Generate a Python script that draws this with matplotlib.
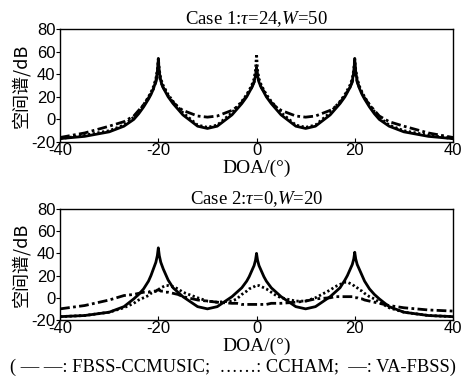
import matplotlib
matplotlib.use("Agg")
import matplotlib.pyplot as plt

plt.rcParams['axes.unicode_minus'] = False
plt.rcParams['mathtext.fontset'] = 'custom'
plt.rcParams['mathtext.rm'] = 'Liberation Serif'
plt.rcParams['mathtext.it'] = 'Liberation Serif:italic'

doa = [-40, -35, -30, -27,
       -25, -24, -23, -22, -21.5, -21, -20.5, -20.2, -20, -19.8, -19.5, -19, -18.5, -18, -17, -16, -15,
       -12, -10, -8,
       -5, -4, -3, -2, -1.5, -1, -0.5, -0.2, 0, 0.2, 0.5, 1, 1.5, 2, 3, 4, 5,
       8, 10, 12,
       15, 16, 17, 18, 18.5, 19, 19.5, 19.8, 20, 20.2, 20.5, 21, 21.5, 22, 23, 24, 25,
       27, 30, 35, 40]

# Case 1 (tau=24, W=50)
c1_va = [-17, -15, -11, -6,
         0, 5, 11, 18, 22, 27, 34, 42, 53, 42, 34, 28, 24, 20, 14, 9, 4,
         -6, -8, -6,
         4, 9, 14, 20, 24, 28, 33, 39, 46, 39, 33, 28, 24, 20, 14, 9, 4,
         -6, -8, -6,
         4, 9, 14, 20, 24, 28, 34, 42, 53, 42, 34, 27, 22, 18, 11, 5, 0,
         -6, -11, -15, -17]
c1_ccham = [-17, -14, -10, -5,
            2, 7, 13, 20, 24, 29, 36, 44, 54, 44, 36, 30, 26, 22, 16, 11, 6,
            -5, -7, -5,
            6, 11, 16, 22, 26, 30, 36, 44, 58, 44, 36, 30, 26, 22, 16, 11, 6,
            -5, -7, -5,
            6, 11, 16, 22, 26, 30, 36, 44, 54, 44, 36, 29, 24, 20, 13, 7, 2,
            -5, -10, -14, -17]
c1_fbss = [-16, -12, -6, -2,
           3, 8, 13, 19, 23, 27, 33, 39, 48, 39, 33, 28, 25, 21, 15, 11, 8,
           3, 2, 3,
           8, 11, 15, 21, 25, 28, 33, 38, 45, 38, 33, 28, 25, 21, 15, 11, 8,
           3, 2, 3,
           8, 11, 15, 21, 25, 28, 33, 39, 48, 39, 33, 27, 23, 19, 13, 8, 3,
           -2, -6, -12, -16]

# Case 2 (tau=0, W=20)
c2_va = [-17, -16, -13, -8,
         -1, 3, 8, 15, 20, 26, 32, 38, 45, 38, 32, 26, 21, 16, 9, 5, 1,
         -8, -10, -8,
         1, 5, 9, 15, 19, 24, 29, 34, 40, 34, 29, 24, 19, 15, 9, 5, 1,
         -8, -10, -8,
         1, 5, 9, 16, 20, 25, 30, 35, 41, 35, 30, 25, 20, 15, 8, 3, -1,
         -8, -13, -16, -17]
c2_ccham = [-17, -16, -13, -9,
            -5, -2, 0, 2, 4, 5, 6, 7, 7, 8, 9, 10, 11, 11, 10, 8, 5,
            0, -3, -4,
            -3, -1, 3, 6, 8, 9, 10, 11, 11, 11, 11, 10, 9, 8, 5, 2, 0,
            -3, -3, 0,
            7, 10, 12, 14, 14, 13, 12, 11, 10, 10, 9, 7, 6, 4, 1, -1, -4,
            -9, -13, -16, -17]
c2_fbss = [-10, -7, -2, 2,
           3, 4, 5, 5, 6, 6, 6, 7, 7, 7, 6, 6, 5, 5, 4, 3, 1,
           -2, -3, -4,
           -5, -5, -6, -6, -6, -6, -6, -6, -6, -6, -6, -6, -6, -6, -5, -5, -5,
           -4, -3, -1,
           0, 1, 1, 1, 1, 1, 1, 0, 0, 0, 0, -1, -1, -2, -3, -4, -5,
           -7, -9, -11, -12]

titles = [r'Case 1:$\tau$=24,$W$=50', r'Case 2:$\tau$=0,$W$=20']
series = [(c1_fbss, c1_ccham, c1_va), (c2_fbss, c2_ccham, c2_va)]
xticks = [-40, -20, 0, 20, 40]
yticks = [-20, 0, 20, 40, 60, 80]

fig = plt.figure(figsize=(4.66, 3.80), dpi=100)
rects = [[0.129, 0.6263, 0.843, 0.2974], [0.129, 0.158, 0.843, 0.292]]

for rect, title, (fb, cc, va) in zip(rects, titles, series):
    ax = fig.add_axes(rect)
    ax.plot(doa, fb, color='black', lw=2.0, linestyle=(0, (3.5, 1.2, 1, 1.2)))
    ax.plot(doa, cc, color='black', lw=2.0, linestyle=(0, (0.8, 0.9)))
    ax.plot(doa, va, color='black', lw=2.0, linestyle='-')
    ax.set_xlim(-40, 40)
    ax.set_ylim(-20, 80)
    ax.set_xticks(xticks)
    ax.set_yticks(yticks)
    ax.tick_params(axis='x', direction='in', length=3, pad=1, labelsize=12)
    ax.tick_params(axis='y', direction='out', length=3, pad=0.5, labelsize=12)
    for lab in ax.get_xticklabels() + ax.get_yticklabels():
        lab.set_fontfamily('Liberation Sans')
    for s in ax.spines.values():
        s.set_linewidth(1.0)
    ax.set_title(title, fontsize=13.5, family='Liberation Serif', pad=2)
    ax.set_xlabel('DOA/(°)', fontsize=14, family='Liberation Serif', labelpad=1)
    ax.set_ylabel('空间谱/dB', fontsize=13, family=['Noto Sans CJK SC', 'DejaVu Sans'], labelpad=1)

fig.text(0.5, 0.034, '( — —: FBSS-CCMUSIC;  ……: CCHAM;  —: VA-FBSS)',
         ha='center', va='center', fontsize=13.3, family='Liberation Serif')

fig.savefig('out.png', dpi=100)
